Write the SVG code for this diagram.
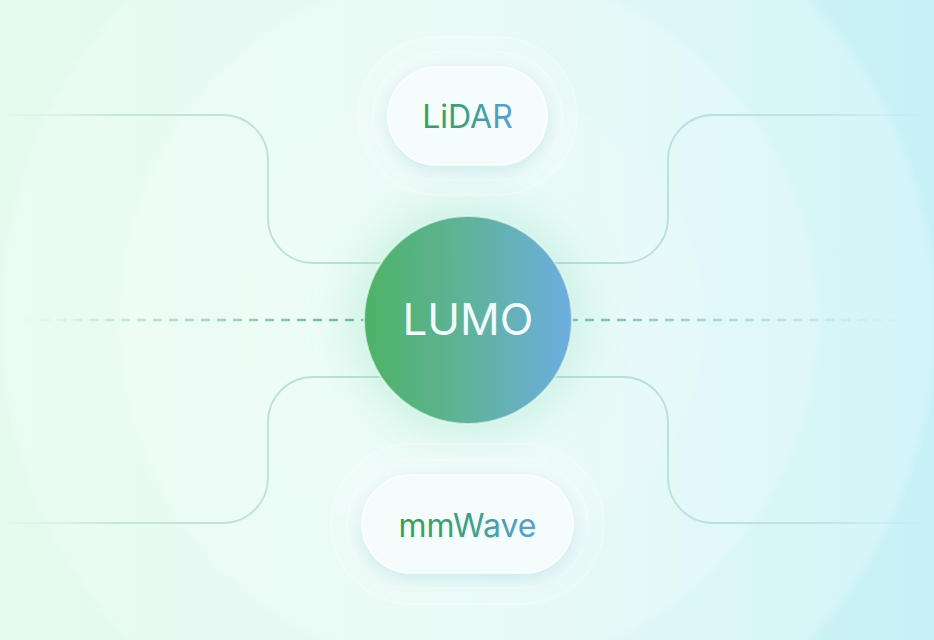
<svg xmlns="http://www.w3.org/2000/svg" width="934" height="640" viewBox="0 0 934 640">
  <defs>
    <linearGradient id="bg" x1="0" y1="0" x2="934" y2="0" gradientUnits="userSpaceOnUse">
      <stop offset="0" stop-color="#e5fbed"/>
      <stop offset="0.5" stop-color="#dcf8f2"/>
      <stop offset="1" stop-color="#c6f1f7"/>
    </linearGradient>
    <linearGradient id="dashG" x1="0" y1="0" x2="934" y2="0" gradientUnits="userSpaceOnUse">
      <stop offset="0.02" stop-color="#6dc096" stop-opacity="0"/>
      <stop offset="0.39" stop-color="#5fb88e" stop-opacity="1"/>
      <stop offset="0.61" stop-color="#6cbcb0" stop-opacity="1"/>
      <stop offset="0.98" stop-color="#8ccbd0" stop-opacity="0"/>
    </linearGradient>
    <linearGradient id="lineL" x1="0" y1="0" x2="400" y2="0" gradientUnits="userSpaceOnUse">
      <stop offset="0" stop-color="#b8e0d0" stop-opacity="0"/>
      <stop offset="0.3" stop-color="#b8e0d0" stop-opacity="0.75"/>
      <stop offset="1" stop-color="#b3ddcd" stop-opacity="0.95"/>
    </linearGradient>
    <linearGradient id="lineR" x1="934" y1="0" x2="534" y2="0" gradientUnits="userSpaceOnUse">
      <stop offset="0" stop-color="#b0dfdf" stop-opacity="0"/>
      <stop offset="0.3" stop-color="#b0dfdb" stop-opacity="0.75"/>
      <stop offset="1" stop-color="#b0dcd2" stop-opacity="0.95"/>
    </linearGradient>
    <linearGradient id="core" x1="0" y1="0" x2="1" y2="0">
      <stop offset="0" stop-color="#4fb266"/>
      <stop offset="0.5" stop-color="#5fb39a"/>
      <stop offset="1" stop-color="#6caee2"/>
    </linearGradient>
    <linearGradient id="txtG" x1="0" y1="0" x2="1" y2="0">
      <stop offset="0" stop-color="#35a24f"/>
      <stop offset="0.5" stop-color="#3c9f86"/>
      <stop offset="1" stop-color="#5a9fdb"/>
    </linearGradient>
    <filter id="soft" x="-40%" y="-60%" width="180%" height="220%">
      <feDropShadow dx="0" dy="6" stdDeviation="9" flood-color="#8fcfd6" flood-opacity="0.35"/>
    </filter>
    <filter id="blurBig" x="-20%" y="-20%" width="140%" height="140%">
      <feGaussianBlur stdDeviation="3"/>
    </filter>
    <filter id="haze" x="-50%" y="-50%" width="200%" height="200%">
      <feGaussianBlur stdDeviation="22"/>
    </filter>
  </defs>
  <style>
    .conn { fill: none; stroke-width: 1.8; stroke-linecap: round; }
    .ring { fill: #ffffff; fill-opacity: 0.14; stroke: #ffffff; stroke-opacity: 0.35; stroke-width: 1.5; }
    .pill { fill: #f4fdfc; stroke: #ffffff; stroke-width: 1.5; }
    .lbl { font-family: Inter, "Liberation Sans", sans-serif; font-weight: 400; text-anchor: middle; }
  </style>

  <!-- background -->
  <rect x="0" y="0" width="934" height="640" fill="url(#bg)"/>
  <g filter="url(#blurBig)">
    <circle cx="468" cy="320" r="468" fill="#ffffff" fill-opacity="0.22"/>
    <circle cx="468" cy="320" r="350" fill="#ffffff" fill-opacity="0.2"/>
    <circle cx="468" cy="320" r="235" fill="#ffffff" fill-opacity="0.12"/>
  </g>

  <!-- connectors -->
  <g id="connectors">
    <path class="conn" stroke="url(#lineL)" d="M 8 115 H 223 A 45 45 0 0 1 268 160 V 218 A 45 45 0 0 0 313 263 H 420"/>
    <path class="conn" stroke="url(#lineL)" d="M 420 377 H 313 A 45 45 0 0 0 268 422 V 478 A 45 45 0 0 1 223 523 H 8"/>
    <path class="conn" stroke="url(#lineR)" d="M 926 115 H 713 A 45 45 0 0 0 668 160 V 218 A 45 45 0 0 1 623 263 H 516"/>
    <path class="conn" stroke="url(#lineR)" d="M 516 377 H 623 A 45 45 0 0 1 668 422 V 478 A 45 45 0 0 0 713 523 H 926"/>
    <line x1="10" y1="320" x2="924" y2="320" stroke="url(#dashG)" stroke-width="2.4" stroke-dasharray="7 9" stroke-linecap="round"/>
  </g>

  <!-- LUMO core -->
  <g id="node-lumo">
    <circle cx="468" cy="320" r="118" fill="#8fe0c4" fill-opacity="0.35" filter="url(#haze)"/>
    <circle cx="468" cy="320" r="104" fill="url(#core)" stroke="#e4f8f0" stroke-opacity="0.7" stroke-width="2"/>
    <text class="lbl" x="468" y="335" font-size="44" fill="#f2fcff">LUMO</text>
  </g>

  <!-- LiDAR -->
  <g id="node-lidar">
    <rect class="ring" x="358" y="37" width="219" height="158" rx="79"/>
    <rect class="ring" x="373" y="52" width="189" height="128" rx="64"/>
    <rect class="pill" x="388" y="67" width="159" height="98" rx="49" filter="url(#soft)"/>
    <text class="lbl" x="467.5" y="128" font-size="32" fill="url(#txtG)">LiDAR</text>
  </g>

  <!-- mmWave -->
  <g id="node-mmwave">
    <rect class="ring" x="331" y="444" width="273" height="160" rx="80"/>
    <rect class="ring" x="347" y="460" width="241" height="128" rx="64"/>
    <rect class="pill" x="362" y="475" width="211" height="98" rx="49" filter="url(#soft)"/>
    <text class="lbl" x="467.5" y="537" font-size="32" fill="url(#txtG)">mmWave</text>
  </g>
</svg>
